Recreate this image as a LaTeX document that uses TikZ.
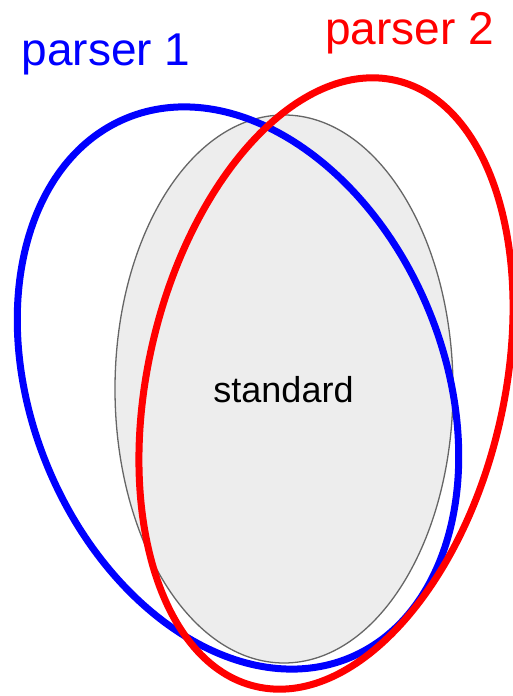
\documentclass[tikz,border=0pt]{standalone}
\usepackage{fontspec}
\setmainfont{Liberation Sans}
\begin{document}
\begin{tikzpicture}[x=1pt,y=1pt,
  stdset/.style={draw=black!60,line width=1.3pt,fill=black!7},
  setone/.style={draw=blue,line width=7pt},
  settwo/.style={draw=red,line width=7pt},
  biglabel/.style={font=\fontsize{46}{55}\selectfont,inner sep=0pt,anchor=base}]
\useasboundingbox (0,0) rectangle (512,696);
\draw[stdset] (284,307) ellipse [x radius=169, y radius=274];
\draw[setone] (238,308) ellipse [x radius=206, y radius=292, rotate=22.5];
\draw[settwo] (326,312.5) ellipse [x radius=178, y radius=311, rotate=-13];
\node[biglabel,text=blue] (p1) at (106,630) {parser 1};
\node[biglabel,text=red] (p2) at (409.5,651) {parser 2};
\node[biglabel,font=\fontsize{36}{43}\selectfont] (std) at (283.5,293) {standard};
\end{tikzpicture}
\end{document}
